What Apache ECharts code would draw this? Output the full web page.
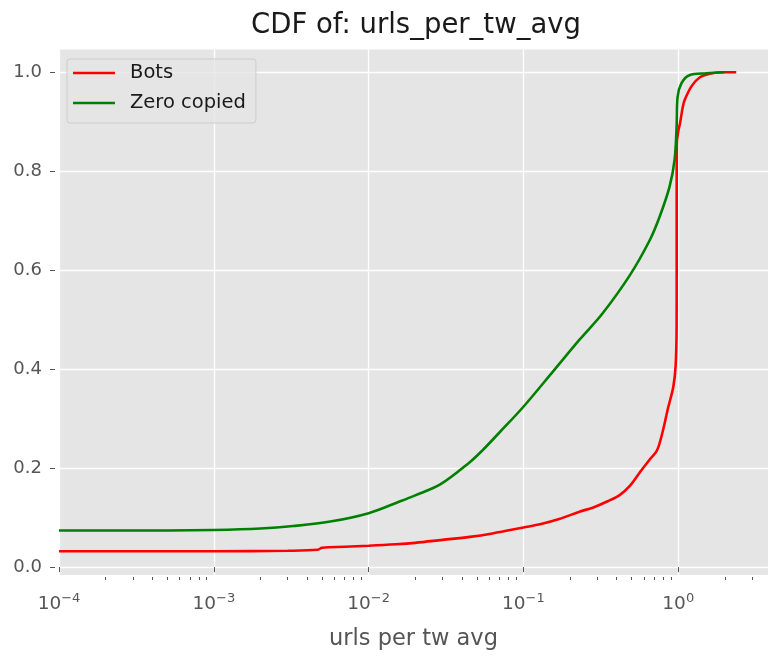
<!DOCTYPE html>
<html>
<head>
<meta charset="utf-8">
<script src="https://cdn.jsdelivr.net/npm/echarts@6/dist/echarts.min.js"></script>
<style>
  html, body { margin: 0; padding: 0; background: #ffffff; }
  #chart { width: 769px; height: 656px; }
</style>
</head>
<body>
<div id="chart"></div>
<script>
// Empirical CDF of urls_per_tw_avg for two account groups
const botsX = [1e-4, 1e-3, 3e-3, 4.7e-3, 5e-3, 7e-3, 1e-2, 1.5e-2, 2e-2, 3e-2, 4.5e-2, 6.3e-2,
  0.1, 0.13, 0.17, 0.23, 0.28, 0.35, 0.42, 0.49, 0.57, 0.66, 0.73, 0.795, 0.857, 0.93,
  0.962, 0.976, 0.977, 0.977, 0.98, 1.0, 1.027, 1.07, 1.10, 1.22, 1.38, 1.6, 1.9, 2.37];
const botsY = [0.032, 0.032, 0.033, 0.035, 0.039, 0.041, 0.043, 0.046, 0.049, 0.055, 0.061, 0.068,
  0.080, 0.087, 0.097, 0.112, 0.120, 0.133, 0.146, 0.165, 0.193, 0.219, 0.236, 0.275, 0.32, 0.365,
  0.407, 0.487, 0.6, 0.75, 0.857, 0.88, 0.897, 0.93, 0.944, 0.972, 0.99, 0.997, 1.0, 1.0];

const zeroX = [1e-4, 5e-4, 1e-3, 2e-3, 3.26e-3, 5.65e-3, 1e-2, 1.6e-2, 2e-2, 2.9e-2, 4.5e-2, 5.4e-2,
  7e-2, 0.1, 0.155, 0.231, 0.325, 0.485, 0.653, 0.758, 0.879, 0.947, 0.976, 0.99, 1.05, 1.18, 1.52, 1.99];
const zeroY = [0.074, 0.074, 0.075, 0.078, 0.083, 0.092, 0.109, 0.133, 0.145, 0.167, 0.212, 0.235,
  0.272, 0.324, 0.395, 0.460, 0.513, 0.589, 0.660, 0.708, 0.769, 0.823, 0.89, 0.95, 0.978, 0.994, 0.998, 1.0];

const seriesNames = ['Bots', 'Zero copied'];
const yTickValues = [0, 0.2, 0.4, 0.6, 0.8, 1.0];
const xMajorTicks = [1e-4, 1e-3, 1e-2, 1e-1, 1];

// log-axis minor tick positions: 2..9 within each decade
const xMinorTicks = [];
for (let e = -4; e <= 0; e++) {
  for (let m = 2; m <= 9; m++) {
    const v = m * Math.pow(10, e);
    if (v < 3.8) xMinorTicks.push(v);
  }
}

const pairs = (xs, ys) => xs.map((x, i) => [x, ys[i]]);
const FONT = 'DejaVu Sans';

const chart = echarts.init(document.getElementById('chart'), null, { renderer: 'canvas' });
chart.setOption({
  animation: false,
  backgroundColor: '#ffffff',
  title: {
    text: 'CDF of: urls_per_tw_avg',
    left: 411,
    textAlign: 'center',
    top: 7,
    textStyle: { fontFamily: FONT, fontSize: 27.5, fontWeight: 'normal', color: '#1a1a1a' }
  },
  legend: {
    left: 67,
    top: 59,
    orient: 'vertical',
    padding: [4, 10, 10, 6],
    itemGap: 10,
    itemWidth: 42,
    itemHeight: 2.5,
    icon: 'rect',
    backgroundColor: 'rgba(229,229,229,0.8)',
    borderColor: '#cccccc',
    borderWidth: 1,
    borderRadius: 3,
    textStyle: { fontFamily: FONT, fontSize: 19.5, color: '#1a1a1a', lineHeight: 20, padding: [0, 0, 0, 10] },
    data: seriesNames
  },
  grid: { left: 59, right: 1, top: 49.5, bottom: 78.5, show: true, backgroundColor: '#e5e5e5', borderWidth: 0 },
  xAxis: [
    {
      type: 'log',
      logBase: 10,
      min: 1e-4,
      max: 3.8,
      offset: 2,
      name: 'urls per tw avg',
      nameLocation: 'middle',
      nameGap: 51,
      nameTextStyle: { fontFamily: FONT, fontSize: 22.5, color: '#555555' },
      axisLine: { show: false },
      axisTick: { show: true, length: 5, lineStyle: { color: '#555555', width: 1 }, customValues: xMajorTicks },
      axisLabel: {
        customValues: xMajorTicks,
        margin: 15,
        formatter: function (v) {
          const e = Math.round(Math.log10(v));
          return '{base|10}{sup|' + (e < 0 ? '\u2212' + (-e) : e) + '}';
        },
        rich: {
          base: { fontFamily: FONT, fontSize: 18.5, color: '#555555', lineHeight: 22, verticalAlign: 'bottom' },
          sup: { fontFamily: FONT, fontSize: 13, color: '#555555', lineHeight: 12, verticalAlign: 'top' }
        }
      },
      splitLine: { show: true, lineStyle: { color: '#ffffff', width: 1.3 } }
    },
    {
      // minor ticks only
      type: 'log',
      logBase: 10,
      min: 1e-4,
      max: 3.8,
      offset: 2,
      position: 'bottom',
      axisLine: { show: false },
      axisTick: { show: true, length: 3, lineStyle: { color: '#555555', width: 1 }, customValues: xMinorTicks },
      axisLabel: { show: false },
      splitLine: { show: false }
    }
  ],
  yAxis: {
    type: 'value',
    min: -0.016,
    max: 1.046,
    offset: 4,
    axisLine: { show: false },
    axisTick: { show: true, length: 5, lineStyle: { color: '#555555', width: 1 }, customValues: yTickValues },
    axisLabel: {
      customValues: yTickValues,
      margin: 13,
      fontFamily: FONT,
      fontSize: 18,
      color: '#555555',
      formatter: v => v.toFixed(1)
    },
    splitLine: { show: true, lineStyle: { color: '#ffffff', width: 1.3 } }
  },
  series: [
    {
      name: seriesNames[0],
      type: 'line',
      xAxisIndex: 0,
      showSymbol: false,
      symbol: 'none',
      smooth: 0.35,
      color: '#ff0000',
      lineStyle: { color: '#ff0000', width: 2.6 },
      data: pairs(botsX, botsY)
    },
    {
      name: seriesNames[1],
      type: 'line',
      xAxisIndex: 0,
      showSymbol: false,
      symbol: 'none',
      smooth: 0.35,
      color: '#008000',
      lineStyle: { color: '#008000', width: 2.6 },
      data: pairs(zeroX, zeroY)
    }
  ]
});
</script>
</body>
</html>
